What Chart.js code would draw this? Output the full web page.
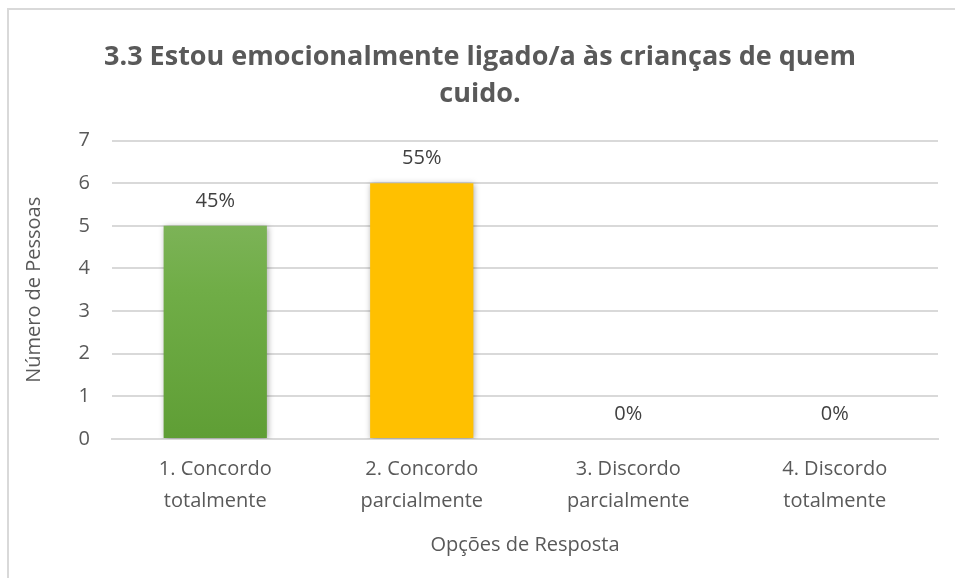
<!DOCTYPE html>
<html>
<head>
<meta charset="utf-8">
<script src="https://cdn.jsdelivr.net/npm/chart.js@4.4.1/dist/chart.umd.min.js"></script>
<style>
  html, body { margin: 0; padding: 0; background: #fff; }
  #wrap { position: relative; width: 955px; height: 578px; overflow: hidden; }
  #frame { position: absolute; left: 7px; top: 8px; width: 960px; height: 580px;
           border-left: 2px solid #d9d9d9; border-top: 2px solid #d9d9d9; box-sizing: border-box; }
  #chart { position: absolute; left: 0; top: 0; }
</style>
</head>
<body>
<div id="wrap">
  <div id="frame"></div>
  <canvas id="chart" width="955" height="578"></canvas>
</div>
<script>
// chart data
const categories = [
    ['1. Concordo', 'totalmente'],
    ['2. Concordo', 'parcialmente'],
    ['3. Discordo', 'parcialmente'],
    ['4. Discordo', 'totalmente']
];
const counts = [5, 6, 0, 0];
const percentLabels = ['45%', '55%', '0%', '0%'];
const yTicks = [0, 1, 2, 3, 4, 5, 6, 7];

const titleLines = ['3.3 Estou emocionalmente ligado/a às crianças de quem', 'cuido.'];
const textColor = '#595959';
const fontFamily = "'Open Sans', 'DejaVu Sans', sans-serif";

function barFill(ctx) {
    const chart = ctx.chart;
    const area = chart.chartArea;
    if (ctx.dataIndex !== 0) return '#FFC000';
    if (!area) return '#70AD47';
    const g = chart.ctx.createLinearGradient(0, area.top, 0, area.bottom);
    g.addColorStop(0, '#8CBB6C');
    g.addColorStop(0.5, '#70AD47');
    g.addColorStop(1, '#5F9E35');
    return g;
}

// percentages drawn over each bar
const percentPlugin = {
    id: 'percentPlugin',
    afterDatasetsDraw(chart) {
        const ctx = chart.ctx;
        const meta = chart.getDatasetMeta(0);
        ctx.save();
        ctx.font = "20px " + fontFamily;
        ctx.fillStyle = '#404040';
        ctx.textAlign = 'center';
        ctx.textBaseline = 'middle';
        meta.data.forEach((bar, i) => {
            ctx.fillText(percentLabels[i], bar.x, bar.y - 25);
        });
        ctx.restore();
    }
};

// soft shadow behind the bars
const shadowPlugin = {
    id: 'shadowPlugin',
    beforeDatasetsDraw(chart) {
        chart.ctx.save();
        chart.ctx.shadowColor = 'rgba(0,0,0,0.35)';
        chart.ctx.shadowBlur = 6;
        chart.ctx.shadowOffsetX = 1;
        chart.ctx.shadowOffsetY = 1;
    },
    afterDatasetsDraw(chart) {
        chart.ctx.restore();
    }
};

new Chart(document.getElementById('chart').getContext('2d'), {
    type: 'bar',
    data: {
        labels: categories,
        datasets: [{
            data: counts,
            backgroundColor: barFill,
            borderWidth: 0,
            categoryPercentage: 1,
            barPercentage: 0.5
        }]
    },
    options: {
        responsive: false,
        animation: false,
        layout: { padding: { left: 22, right: 17, top: 0, bottom: 21 } },
        plugins: {
            legend: { display: false },
            tooltip: { enabled: false },
            title: {
                display: true,
                text: titleLines,
                color: textColor,
                font: { family: fontFamily, size: 27, weight: 'bold', lineHeight: 1.4 },
                padding: { top: 38, bottom: 27 }
            }
        },
        scales: {
            y: {
                min: 0,
                max: 7,
                afterBuildTicks: (axis) => { axis.ticks = yTicks.map(v => ({ value: v })); },
                afterFit: (axis) => { axis.width = 90; },
                border: { display: false },
                grid: { color: '#d9d9d9', lineWidth: 2, drawTicks: false },
                ticks: { color: textColor, font: { family: fontFamily, size: 20 }, padding: 22 },
                title: {
                    display: true,
                    text: 'Número de Pessoas',
                    color: textColor,
                    font: { family: fontFamily, size: 20 },
                    padding: 0
                }
            },
            x: {
                afterFit: (axis) => { axis.height = 118; },
                border: { color: '#d9d9d9', width: 2 },
                grid: { display: false },
                ticks: { color: textColor, font: { family: fontFamily, size: 20, lineHeight: 1.6 }, padding: 6 },
                title: {
                    display: true,
                    text: 'Opções de Resposta',
                    color: textColor,
                    font: { family: fontFamily, size: 20, lineHeight: 1.2 },
                    padding: { top: 16, bottom: 0 }
                }
            }
        }
    },
    plugins: [shadowPlugin, percentPlugin]
});
</script>
</body>
</html>
